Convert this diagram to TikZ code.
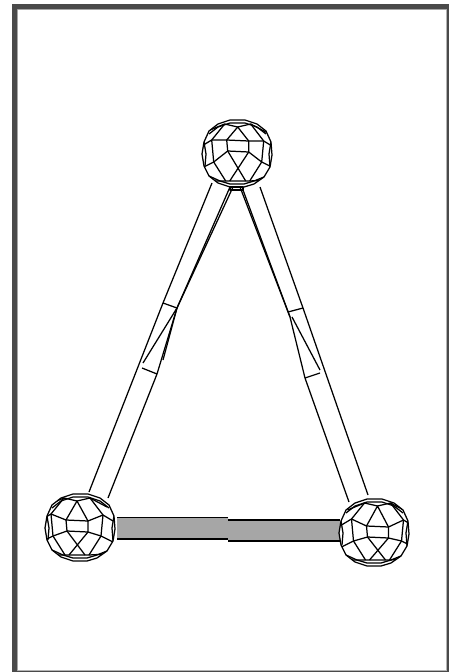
\documentclass[tikz,border=0pt]{standalone}
\usepackage{tikz}
\usetikzlibrary{calc}
\definecolor{framegrey}{HTML}{4A4A4A}
\definecolor{edgegrey}{HTML}{B4B4B4}
\definecolor{bargrey}{HTML}{A6A6A6}
\newcommand{\ballrim}{(-7,-33) -- (8,-33) -- (20,-29) -- (29,-22) -- (34,-11) -- (35,2) -- (33,14)
    -- (27,24) -- (17,31) -- (7,34) -- (-7,34) -- (-19,30) -- (-28,23) -- (-33,13) -- (-35,1) -- (-33,-11)
    -- (-28,-22) -- (-19,-29) -- cycle}
% ball: #1 shifts the inner mesh sideways, #2 moves its square up or down
\tikzset{pics/ball/.style 2 args={code={
  \fill[white] \ballrim;
  \begin{scope}
    \clip \ballrim;
    \draw[wire] (-33,-11) -- (-31,1) -- (-32,13);
    \draw[wire] (34,-11) -- (32,1) -- (33,14);
    \draw[wire] (-28,23) -- (-17,28) -- (-7,31) -- (7,31) -- (17,28) -- (27,24);
    \draw[wire] (-28,-19) -- (-19,-26) -- (-7,-30) -- (8,-30) -- (20,-26) -- (29,-19);
    \begin{scope}[shift={(#1,0)}]
      \draw[wire] (-11,{-6+#2}) -- (11,{-5+#2}) -- (11,{6+#2}) -- (-10,{5+#2}) -- cycle;
      \draw[wire] (-11,{-6+#2}) -- (0,-26) -- (11,{-5+#2});
      \draw[wire] (-11,{-6+#2}) -- (-26,-13) -- (-36,-7);
      \draw[wire] (11,{-5+#2}) -- (26,-12) -- (36,-6);
      \draw[wire] (-26,-13) -- (-13,-29) -- (0,-26) -- (13,-29) -- (26,-12);
      \draw[wire] (-30,-22) -- (-13,-29);
      \draw[wire] (13,-29) -- (30,-20);
      \draw[wire] (-26,-13) -- (-24,9) -- (-12,28);
      \draw[wire] (26,-12) -- (24,9) -- (12,28);
      \draw[wire] (-10,{5+#2}) -- (-24,9) -- (-36,15);
      \draw[wire] (11,{6+#2}) -- (24,9) -- (36,15);
      \draw[wire] (-10,{5+#2}) -- (8,28);
      \draw[wire] (11,{6+#2}) -- (-8,28);
      \draw[wire] (-30,28) -- (-12,28) -- (12,28) -- (30,27);
    \end{scope}
  \end{scope}
  \draw[wire] \ballrim;
}}}

\begin{document}
\begin{tikzpicture}[x=1pt,y=-1pt,
    wire/.style={draw=black, line width=1.25pt, line join=round},
    heavywire/.style={draw=black, line width=1.6pt, line join=round}]
  \useasboundingbox (0,0) rectangle (449,672);
  \fill[white] (0,0) rectangle (449,672);
  % window frame
  \fill[edgegrey] (17,9) rectangle (447,672);
  \fill[white] (18,10) rectangle (446,670);
  \fill[framegrey,even odd rule] (12,4) rectangle (449,672) (17,9) rectangle (447,671);
  % bottom bar
  \fill[bargrey] (117,517.5) rectangle (228,539) (228,520) rectangle (340,541);
  \draw[heavywire] (117,517.5) -- (228,517.5);
  \draw[heavywire] (117,539) -- (228,539);
  \draw[heavywire] (228,520) -- (340,520);
  \draw[heavywire] (228,541) -- (340,541);
  % left stalk
  \draw[wire] (89,492) -- (163,303) -- (212,183);
  \draw[wire] (108,498) -- (157,374) -- (177,308) -- (230,187);
  \draw[wire] (157,374) -- (142,368);
  \draw[wire] (163,303) -- (177,308);
  \draw[wire] (177,308) -- (143,363);
  \draw[wire] (163,360) -- (177,308) -- (233,187);
  % right stalk
  \draw[wire] (368,495) -- (303,308) -- (260,187);
  \draw[wire] (349,502) -- (305,378) -- (290,317) -- (243,190);
  \draw[wire] (288,312) -- (303,308);
  \draw[wire] (305,378) -- (320,373);
  \draw[wire] (292,317) -- (320,370);
  \draw[wire] (290,317) -- (240,187);
  % balls
  \pic at (237,153) {ball={0.7}{-7}};
  \pic at (80,527) {ball={-3}{-1}};
  \pic at (374,532) {ball={3.5}{0}};
  % joint under the top ball
  \draw[wire] (230,187) -- (243,187) -- (243,190) -- (230,190) -- cycle;
\end{tikzpicture}
\end{document}
